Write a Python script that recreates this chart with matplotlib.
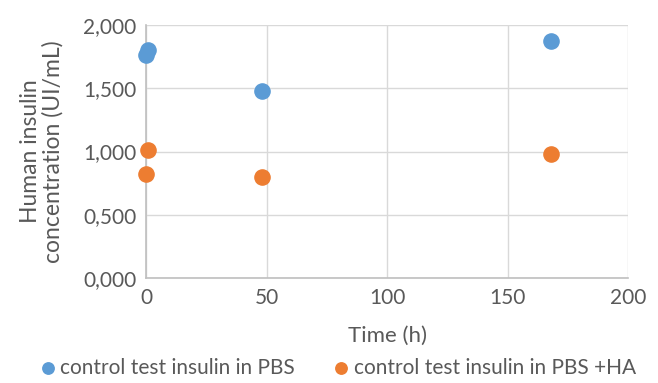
import matplotlib
matplotlib.use("Agg")
import matplotlib.pyplot as plt
from matplotlib.ticker import FuncFormatter

plt.rcParams['font.family'] = ['Lato', 'DejaVu Sans']

pbs_x = [0, 1, 48, 168]
pbs_y = [1.763, 1.800, 1.478, 1.873]
ha_x = [0, 1, 48, 168]
ha_y = [0.822, 1.012, 0.798, 0.980]

txt = '#595959'
fig = plt.figure(figsize=(6.58, 3.83), dpi=100)
ax = fig.add_axes([146/658, 1-278/383, (628-146)/658, (278-25)/383])
ax.scatter(pbs_x, pbs_y, s=120, color='#5B9BD5', zorder=3, label='control test insulin in PBS', clip_on=False)
ax.scatter(ha_x, ha_y, s=120, color='#ED7D31', zorder=3, label='control test insulin in PBS +HA', clip_on=False)
ax.set_xlim(0, 200)
ax.set_ylim(0, 2.0)
ax.set_xticks([0, 50, 100, 150, 200])
ax.set_yticks([0, 0.5, 1.0, 1.5, 2.0])
ax.yaxis.set_major_formatter(FuncFormatter(lambda v, p: f"{v:.3f}".replace('.', ',')))
ax.grid(True, color='#D9D9D9', linewidth=1)
ax.set_axisbelow(True)
for s in ['top', 'right']:
    ax.spines[s].set_visible(False)
for s in ['left', 'bottom']:
    ax.spines[s].set_color('#BFBFBF')
    ax.spines[s].set_linewidth(1.2)
ax.tick_params(length=0, labelsize=15, colors=txt, pad=7)
ax.set_xlabel('Time (h)', fontsize=16, color=txt, labelpad=13)
ax.set_ylabel('Human insulin\nconcentration (UI/mL)', fontsize=16.5, color=txt, labelpad=14, linespacing=1.05)
leg = fig.legend(loc='lower center', bbox_to_anchor=(0.51, -0.035), ncol=2, frameon=False,
                 fontsize=15, handletextpad=0.0, columnspacing=1.6, markerscale=0.75,
                 handlelength=1.2)
for t in leg.get_texts():
    t.set_color(txt)
fig.savefig('out.png', dpi=100)
